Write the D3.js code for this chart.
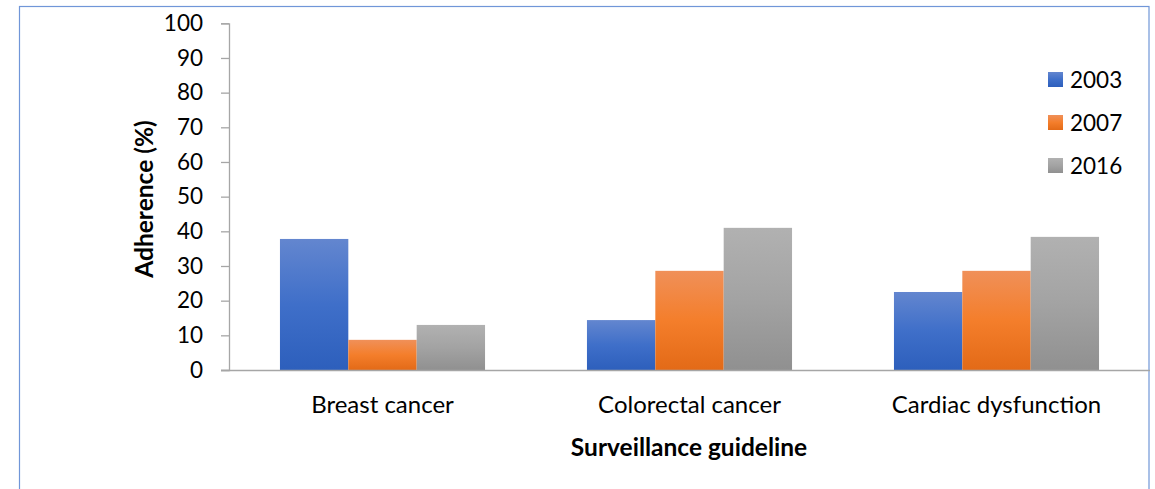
<!DOCTYPE html>
<html>
<head>
<meta charset="utf-8">
<script src="https://cdn.jsdelivr.net/npm/d3@7"></script>
<style>
  html, body { margin: 0; padding: 0; background: #fff; }
  svg { display: block; font-family: Lato, "Liberation Sans", sans-serif; }
</style>
</head>
<body>
<svg id="chart" width="1155" height="489"></svg>
<script>
// Adherence to surveillance guidelines by year
const categories = ["Breast cancer", "Colorectal cancer", "Cardiac dysfunction"];
const years = ["2003", "2007", "2016"];
const values2003 = [37.8, 14.4, 22.5];
const values2007 = [8.7, 28.6, 28.6];
const values2016 = [13.0, 41.0, 38.4];
const yTicks = [0, 10, 20, 30, 40, 50, 60, 70, 80, 90, 100];

const seriesValues = [values2003, values2007, values2016];
const seriesColors = [
  ["#6386cf", "#3f6fc9", "#2d5fbc"],
  ["#f09059", "#f47e2b", "#e36a17"],
  ["#b1b1b1", "#a3a3a3", "#909090"]
];

const svg = d3.select("#chart");

// outer frame
svg.append("rect")
  .attr("x", 19.5).attr("y", 6.5)
  .attr("width", 1129.5).attr("height", 500)
  .attr("fill", "none")
  .attr("stroke", "#7096d8")
  .attr("stroke-width", 1.2);

// gradients per series
const defs = svg.append("defs");
seriesColors.forEach((c, i) => {
  const g = defs.append("linearGradient")
    .attr("id", "grad" + i)
    .attr("x1", 0).attr("y1", 0).attr("x2", 0).attr("y2", 1);
  g.append("stop").attr("offset", "0%").attr("stop-color", c[0]);
  g.append("stop").attr("offset", "50%").attr("stop-color", c[1]);
  g.append("stop").attr("offset", "100%").attr("stop-color", c[2]);
});

const x0 = d3.scaleBand()
  .domain(categories)
  .range([229, 1150])
  .paddingInner(0.332)
  .paddingOuter(0.166);

const x1 = d3.scaleBand()
  .domain(years)
  .range([0, x0.bandwidth()]);

const y = d3.scaleLinear().domain([0, 100]).range([370, 23.3]);

// y axis
const yAxis = svg.append("g")
  .attr("transform", "translate(229,0)")
  .call(d3.axisLeft(y).tickValues(yTicks).tickSize(8).tickPadding(18));
yAxis.select(".domain").attr("stroke", "#a6a6a6").attr("stroke-width", 1.3);
yAxis.selectAll(".tick line").attr("stroke", "#a6a6a6").attr("stroke-width", 1.3);
yAxis.selectAll(".tick text")
  .attr("font-size", 22.5)
  .attr("font-family", "Lato, 'Liberation Sans', sans-serif")
  .attr("fill", "#000");

// bars
const groups = svg.append("g").selectAll("g")
  .data(categories)
  .join("g")
  .attr("transform", d => `translate(${x0(d)},0)`);

groups.selectAll("rect")
  .data((d, ci) => years.map((yr, si) => ({ yr, si, v: seriesValues[si][ci] })))
  .join("rect")
  .attr("x", d => x1(d.yr))
  .attr("width", x1.bandwidth())
  .attr("y", d => y(d.v))
  .attr("height", d => y(0) - y(d.v))
  .attr("fill", d => `url(#grad${d.si})`);

// x axis baseline
const xAxis = svg.append("g")
  .attr("transform", `translate(0,${y(0)})`)
  .call(d3.axisBottom(x0).tickSize(0).tickPadding(26));
xAxis.select(".domain").attr("stroke", "#a6a6a6").attr("stroke-width", 1.3)
  .attr("d", "M221,0.5H1150");
xAxis.selectAll(".tick text")
  .attr("font-size", 24)
  .attr("font-family", "Lato, 'Liberation Sans', sans-serif")
  .attr("fill", "#000");

// axis titles
svg.append("text")
  .attr("transform", "translate(153,199) rotate(-90)")
  .attr("text-anchor", "middle")
  .attr("font-size", 24.5)
  .attr("font-weight", "bold")
  .text("Adherence (%)");

svg.append("text")
  .attr("x", 689).attr("y", 456)
  .attr("text-anchor", "middle")
  .attr("font-size", 24.5)
  .attr("font-weight", "bold")
  .text("Surveillance guideline");

// legend
const legend = svg.append("g").selectAll("g")
  .data(years)
  .join("g")
  .attr("transform", (d, i) => `translate(1048,${72 + i * 43})`);
legend.append("rect")
  .attr("width", 15).attr("height", 15)
  .attr("fill", (d, i) => `url(#grad${i})`);
legend.append("text")
  .attr("x", 22).attr("y", 15.5)
  .attr("font-size", 22.5)
  .text(d => d);
</script>
</body>
</html>
